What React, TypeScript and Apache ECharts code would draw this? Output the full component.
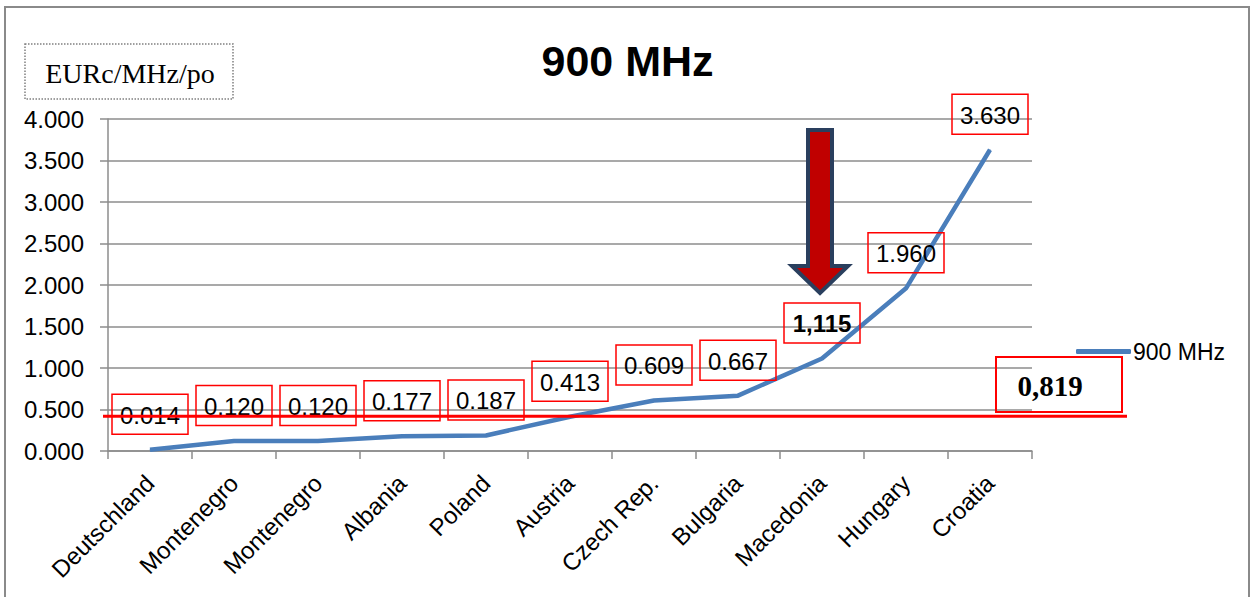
import React, { useEffect, useRef } from 'react';
import * as echarts from 'echarts';

const categories = ['Deutschland', 'Montenegro', 'Montenegro', 'Albania', 'Poland', 'Austria', 'Czech Rep.', 'Bulgaria', 'Macedonia', 'Hungary', 'Croatia'];
const values = [0.014, 0.12, 0.12, 0.177, 0.187, 0.413, 0.609, 0.667, 1.115, 1.96, 3.63];
const valueLabels = ['0.014', '0.120', '0.120', '0.177', '0.187', '0.413', '0.609', '0.667', '1,115', '1.960', '3.630'];
const boldLabelIndex = 8;
const arrowIndex = 8;
const yMin = 0;
const yMax = 4;
const yInterval = 0.5;
const referenceValue = 0.42;
const referenceLabel = '0,819';
const seriesName = '900 MHz';
const titleText = '900 MHz';
const unitText = 'EURc/MHz/po';

const SANS = '"Liberation Sans", Arial, sans-serif';
const SERIF = '"Liberation Serif", "Times New Roman", serif';

export default function App() {
  const ref = useRef<HTMLDivElement>(null);
  useEffect(() => {
    if (!ref.current) return;
    const chart = echarts.init(ref.current, undefined, { renderer: 'svg' });
    const grey = '#8c8c8c';
    chart.setOption({
      animation: false,
      backgroundColor: '#ffffff',
      title: {
        text: titleText,
        left: 'center',
        top: 34,
        textStyle: { fontFamily: SANS, fontSize: 43, fontWeight: 'bold', color: '#000' },
      },
      legend: {
        data: [seriesName],
        left: 1071,
        top: 335,
        icon: 'roundRect',
        itemWidth: 55,
        itemHeight: 5,
        itemGap: 4,
        textStyle: { fontFamily: SANS, fontSize: 23, color: '#000', padding: [0, 0, 0, -3] },
      },
      grid: { left: 108, right: 223, top: 119, bottom: 146 },
      xAxis: {
        type: 'category',
        data: categories,
        boundaryGap: true,
        axisLine: { show: true, lineStyle: { color: grey, width: 1.5 } },
        axisTick: { show: true, length: 8, alignWithLabel: false, lineStyle: { color: grey, width: 1.5 } },
        axisLabel: { rotate: 45, margin: 28, interval: 0, fontFamily: SANS, fontSize: 24, color: '#000' },
        splitLine: { show: false },
      },
      yAxis: {
        type: 'value',
        min: yMin,
        max: yMax,
        interval: yInterval,
        axisLine: { show: true, lineStyle: { color: grey, width: 1.5 } },
        axisTick: { show: true, length: 8, lineStyle: { color: grey, width: 1.5 } },
        axisLabel: {
          margin: 24,
          fontFamily: SANS,
          fontSize: 24,
          color: '#000',
          formatter: (v: number) => v.toFixed(3),
        },
        splitLine: { show: true, lineStyle: { color: grey, width: 1.5 } },
      },
      series: [
        {
          name: seriesName,
          type: 'line',
          data: values.map((v, i) =>
            i === boldLabelIndex ? { value: v, label: { fontWeight: 'bold' } } : v
          ),
          symbol: 'circle',
          symbolSize: 1,
          showSymbol: true,
          itemStyle: { color: '#4a7ebb' },
          lineStyle: { color: '#4a7ebb', width: 4.5 },
          label: {
            show: true,
            position: 'top',
            distance: 15,
            formatter: (p: any) => valueLabels[p.dataIndex],
            fontFamily: SANS,
            fontSize: 24,
            color: '#000',
            borderColor: '#ff0000',
            borderWidth: 1.5,
            width: 76,
            lineHeight: 30,
            padding: [6, 0, 4, 0],
            align: 'center',
          },
        },
      ],
    });

    const refY = chart.convertToPixel({ yAxisIndex: 0 }, referenceValue) as number;
    const ax = (chart.convertToPixel({ xAxisIndex: 0 }, arrowIndex) as number) - 2;

    chart.setOption({
      graphic: [
        {
          type: 'rect',
          z: -1,
          shape: { x: 5, y: 7, width: 1244, height: 600 },
          style: { fill: 'none', stroke: '#8a8a8a', lineWidth: 2 },
        },
        {
          type: 'rect',
          shape: { x: 25, y: 44, width: 208, height: 55 },
          style: { fill: 'none', stroke: '#808080', lineWidth: 1.5, lineDash: [1.5, 1.5] },
        },
        {
          type: 'text',
          x: 130,
          y: 73,
          style: { text: unitText, font: `28px ${SERIF}`, fill: '#000', align: 'center', verticalAlign: 'middle' },
        },
        {
          type: 'line',
          z: 100,
          shape: { x1: 103, y1: refY, x2: 1127, y2: refY },
          style: { stroke: '#ff0000', lineWidth: 3 },
        },
        {
          type: 'rect',
          z: 100,
          shape: { x: 996, y: 357, width: 126, height: 55 },
          style: { fill: 'none', stroke: '#ff0000', lineWidth: 2 },
        },
        {
          type: 'text',
          z: 100,
          x: 1050,
          y: 386,
          style: { text: referenceLabel, font: `bold 29px ${SERIF}`, fill: '#000', align: 'center', verticalAlign: 'middle' },
        },
        {
          type: 'polygon',
          z: 100,
          shape: {
            points: [
              [ax - 12, 130],
              [ax + 12, 130],
              [ax + 12, 266],
              [ax + 28, 266],
              [ax, 293],
              [ax - 28, 266],
              [ax - 12, 266],
            ],
          },
          style: { fill: '#c00000', stroke: '#2a3f5e', lineWidth: 4, lineJoin: 'miter' },
        },
      ],
    });

    return () => chart.dispose();
  }, []);
  return (
    <div
      ref={ref}
      style={{ position: 'absolute', left: 0, top: 0, width: 1255, height: 597 }}
    />
  );
}
